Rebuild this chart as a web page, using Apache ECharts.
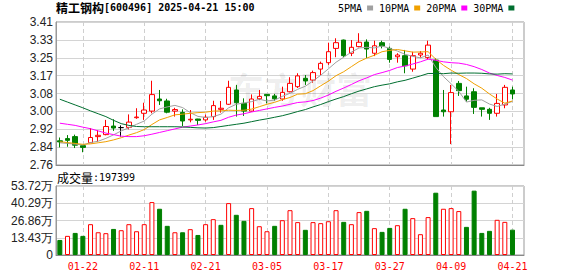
<!DOCTYPE html>
<html><head><meta charset="utf-8">
<script src="https://cdn.jsdelivr.net/npm/echarts@6/dist/echarts.min.js"></script>
<style>html,body{margin:0;padding:0;background:#fff}#c{width:578px;height:276px}</style>
</head><body><div id="c"></div>
<script>
const dates = ['01-17','01-20','01-21','01-22','01-23','01-24','01-27',
 '02-05','02-06','02-07','02-10','02-11','02-12','02-13','02-14','02-17','02-18','02-19','02-20','02-21','02-24','02-25','02-26','02-27','02-28',
 '03-03','03-04','03-05','03-06','03-07','03-10','03-11','03-12','03-13','03-14','03-17','03-18','03-19','03-20','03-21','03-24','03-25','03-26','03-27','03-28','03-31',
 '04-01','04-02','04-03','04-07','04-08','04-09','04-10','04-11','04-14','04-15','04-16','04-17','04-18','04-21'];
const openP  = [2.870,2.880,2.889,2.848,2.861,2.889,2.898,2.937,2.930,2.931,2.975,2.995,3.005,3.060,3.051,3.005,2.999,2.965,2.969,2.965,2.980,3.013,3.036,3.101,3.040,3.005,3.061,3.081,3.074,3.060,3.093,3.116,3.154,3.146,3.196,3.225,3.290,3.328,3.268,3.298,3.319,3.268,3.316,3.290,3.252,3.257,3.196,3.260,3.248,3.237,3.010,3.002,3.131,3.074,3.093,3.020,3.013,2.995,3.033,3.101];
const closeP = [2.865,2.872,2.850,2.840,2.885,2.895,2.935,2.928,2.930,2.955,2.978,3.010,3.080,3.052,3.000,3.012,2.960,2.968,2.963,2.977,3.030,3.018,3.113,3.043,3.005,3.060,3.072,3.075,3.061,3.090,3.131,3.165,3.142,3.180,3.222,3.275,3.316,3.257,3.295,3.318,3.287,3.302,3.301,3.240,3.260,3.211,3.257,3.268,3.305,2.980,3.002,3.089,3.098,3.059,3.022,3.013,2.995,3.040,3.113,3.083];
const lowP   = [2.840,2.843,2.837,2.818,2.860,2.865,2.895,2.915,2.889,2.922,2.970,2.965,2.995,3.033,2.995,2.980,2.937,2.954,2.942,2.957,2.965,2.998,3.033,2.980,2.983,3.002,3.055,3.040,3.052,3.052,3.090,3.110,3.124,3.134,3.169,3.215,3.250,3.250,3.255,3.295,3.246,3.255,3.290,3.225,3.225,3.177,3.184,3.248,3.240,2.980,2.980,2.855,3.074,3.048,2.992,2.980,2.965,2.980,3.018,3.059];
const highP  = [2.885,2.896,2.898,2.851,2.928,2.919,2.965,2.968,2.940,2.990,3.018,3.043,3.143,3.101,3.061,3.020,3.013,3.010,2.970,2.989,3.052,3.051,3.143,3.124,3.063,3.081,3.101,3.082,3.083,3.116,3.159,3.177,3.169,3.189,3.230,3.316,3.336,3.330,3.328,3.359,3.331,3.325,3.325,3.298,3.268,3.283,3.275,3.278,3.325,3.245,3.101,3.124,3.142,3.116,3.109,3.020,3.020,3.083,3.124,3.116];
const volume = [117000,149000,172000,149000,240000,177000,170000,203000,193000,240000,
 185000,240000,412000,360000,227000,177000,177000,201000,156000,240000,
 279000,235000,404000,313000,266000,365000,224000,185000,227000,271000,
 349000,256000,196000,256000,248000,263000,349000,258000,240000,334000,
 344000,209000,180000,211000,232000,360000,287000,162000,295000,485000,
 360000,365000,342000,219000,501000,172000,188000,274000,258000,197399];
const ma5  = [2.861,2.858,2.855,2.851,2.862,2.868,2.881,2.897,2.915,2.929,2.945,2.960,2.991,3.015,3.024,3.031,3.021,2.998,2.981,2.976,2.980,2.991,3.020,3.036,3.042,3.048,3.059,3.051,3.055,3.072,3.086,3.104,3.118,3.142,3.168,3.197,3.227,3.250,3.273,3.292,3.295,3.292,3.301,3.290,3.278,3.263,3.254,3.247,3.260,3.204,3.162,3.129,3.095,3.046,3.054,3.056,3.037,3.026,3.037,3.049];
const ma10 = [2.866,2.862,2.858,2.854,2.856,2.861,2.866,2.874,2.884,2.896,2.907,2.921,2.944,2.965,2.976,2.988,2.991,2.995,2.998,3.000,3.005,3.006,3.009,3.008,3.009,3.014,3.025,3.036,3.045,3.057,3.067,3.082,3.084,3.098,3.120,3.141,3.166,3.184,3.207,3.230,3.246,3.259,3.275,3.281,3.285,3.279,3.273,3.274,3.275,3.241,3.213,3.191,3.171,3.153,3.129,3.109,3.083,3.060,3.041,3.051];
const ma20 = [2.950,2.945,2.940,2.932,2.925,2.915,2.905,2.898,2.891,2.889,2.889,2.893,2.900,2.908,2.916,2.924,2.932,2.937,2.942,2.948,2.956,2.963,2.977,2.987,2.993,3.001,3.008,3.015,3.022,3.028,3.036,3.044,3.047,3.053,3.064,3.078,3.095,3.110,3.126,3.143,3.156,3.171,3.180,3.190,3.203,3.210,3.219,3.229,3.241,3.236,3.229,3.225,3.223,3.217,3.207,3.194,3.178,3.167,3.158,3.146];
const ma30 = [3.059,3.046,3.033,3.020,3.006,2.993,2.980,2.963,2.948,2.940,2.935,2.934,2.934,2.934,2.934,2.934,2.933,2.931,2.929,2.928,2.930,2.935,2.940,2.945,2.950,2.957,2.964,2.970,2.977,2.984,2.993,3.003,3.012,3.024,3.035,3.048,3.060,3.071,3.084,3.096,3.106,3.116,3.123,3.129,3.138,3.145,3.155,3.165,3.176,3.176,3.175,3.178,3.177,3.178,3.178,3.177,3.174,3.173,3.175,3.174];
const priceTicks = [2.76,2.84125,2.9225,3.00375,3.085,3.16625,3.2475,3.32875,3.41];
const volTickStep = 134300;
const volMax = 537200;
const labelDates = ['01-22','02-11','02-21','03-05','03-17','03-27','04-09','04-21'];
const maNames = ['5PMA','10PMA','20PMA','30PMA'];
const maColors = ['#a0a0a0','#f0a000','#ff00ff','#006f30'];

const cats = dates.concat(['']);
const showAt = (idx, val) => labelDates.indexOf(val) >= 0;

const kData = dates.map((d, i) => {
  const item = { value: [openP[i], closeP[i], lowP[i], highP[i]] };
  if (openP[i] === closeP[i]) {
    item.itemStyle = { color: '#000', color0: '#000', borderColor: '#000', borderColor0: '#000', borderColorDoji: '#000' };
  }
  return item;
});
const volData = volume.map((v, i) => {
  const up = i === 0 ? closeP[i] >= openP[i] : closeP[i] >= closeP[i - 1];
  return { value: v, itemStyle: up ? { color: '#fff', borderColor: '#ff0000', borderWidth: 1 } : { color: '#008000', borderColor: '#008000', borderWidth: 1 } };
});
const maData = [ma5, ma10, ma20, ma30];

const chart = echarts.init(document.getElementById('c'), null, { renderer: 'svg' });
const dashed = { color: '#cfcfcf', type: [4, 3], width: 1 };
chart.setOption({
  animation: false,
  backgroundColor: '#fff',
  title: {
    text: '{a|精工钢构}{b|[600496] 2025-04-21 15:00}',
    left: 56, top: 1, padding: 0,
    textStyle: { rich: {
      a: { fontFamily: 'Noto Sans CJK SC', fontSize: 12, color: '#000' },
      b: { fontFamily: 'DejaVu Sans Mono', fontSize: 10, color: '#000' } } }
  },
  legend: {
    data: maNames, left: 338, top: 3, padding: 0, align: 'right', icon: 'rect',
    itemWidth: 6, itemHeight: 5, itemGap: 6,
    textStyle: { fontFamily: 'DejaVu Sans Mono', fontSize: 10, color: '#000' }
  },
  graphic: [
    { type: 'text', left: 228, top: 70, z: 1, silent: true,
      style: { text: '东方财富', font: 'bold 36px "Noto Sans CJK SC"', fill: 'rgba(0,0,0,0.07)' } },
    { type: 'text', left: 57, top: 171, z: 10,
      style: { text: '{a|成交量}{b|:197399}', rich: {
        a: { fontFamily: 'Noto Sans CJK SC', fontSize: 12, fill: '#000' },
        b: { fontFamily: 'DejaVu Sans Mono', fontSize: 10, fill: '#000' } } } }
  ],
  grid: [
    { left: 56, top: 22, width: 468, height: 143, show: true, borderColor: '#999', borderWidth: 1 },
    { left: 56, top: 186, width: 468, height: 69, show: true, borderColor: '#999', borderWidth: 1 }
  ],
  xAxis: [
    { type: 'category', gridIndex: 0, data: cats, boundaryGap: true,
      axisLine: { show: true, lineStyle: { color: '#888' } },
      axisTick: { show: false, alignWithLabel: true, interval: showAt },
      axisLabel: { show: false, interval: showAt },
      splitLine: { show: true, interval: showAt, alignWithLabel: true, lineStyle: dashed } },
    { type: 'category', gridIndex: 1, data: cats, boundaryGap: true,
      axisLine: { show: true, lineStyle: { color: '#888' } },
      axisTick: { show: false, alignWithLabel: true, interval: showAt },
      axisLabel: { show: true, interval: showAt, color: '#ff0000', fontFamily: 'DejaVu Sans Mono', fontSize: 10, margin: 6 },
      splitLine: { show: true, interval: showAt, alignWithLabel: true, lineStyle: dashed } }
  ],
  yAxis: [
    { type: 'value', gridIndex: 0, min: priceTicks[0], max: priceTicks[priceTicks.length - 1],
      axisLine: { show: true, lineStyle: { color: '#999' } },
      axisTick: { show: false, customValues: priceTicks },
      axisLabel: { customValues: priceTicks, formatter: v => v.toFixed(2), color: '#222', fontFamily: 'Liberation Sans', fontSize: 12, margin: 3 },
      splitLine: { show: true, lineStyle: { color: '#d4d4d4' } } },
    { type: 'value', gridIndex: 1, min: 0, max: volMax, interval: volTickStep,
      axisLine: { show: true, lineStyle: { color: '#999' } },
      axisTick: { show: false },
      axisLabel: { formatter: v => v === 0 ? '0' : (v / 10000).toFixed(2) + '万', color: '#222', fontFamily: 'Liberation Sans', fontSize: 12, margin: 3 },
      splitLine: { show: true, lineStyle: { color: '#d4d4d4' } } }
  ],
  series: [
    { type: 'candlestick', name: 'K', xAxisIndex: 0, yAxisIndex: 0, data: kData, barWidth: 5,
      itemStyle: { color: '#ffffff', color0: '#008000', borderColor: '#ff0000', borderColor0: '#008000', borderWidth: 1 } }
  ].concat(maNames.map((n, k) => ({
      type: 'line', name: n, xAxisIndex: 0, yAxisIndex: 0, data: maData[k], symbol: 'none',
      color: maColors[k], lineStyle: { width: 1, color: maColors[k] }, z: 3
  }))).concat([
    { type: 'bar', name: 'VOL', xAxisIndex: 1, yAxisIndex: 1, data: volData, barWidth: 5 }
  ])
});
</script></body></html>
